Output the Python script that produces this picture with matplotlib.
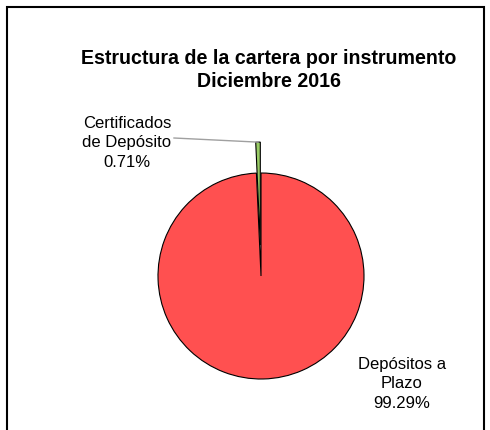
import numpy as np
import matplotlib
matplotlib.use("Agg")
import matplotlib.pyplot as plt
from matplotlib.patches import Rectangle

# data
categories = ["Depósitos a\nPlazo", "Certificados\nde Depósito"]
shares = [99.29, 0.71]
colors = ["#FF5050", "#99CC66"]
title = "Estructura de la cartera por instrumento\nDiciembre 2016"

plt.rcParams["font.family"] = ["Liberation Sans", "DejaVu Sans"]

W, H = 490, 430
fig = plt.figure(figsize=(W / 100, H / 100), dpi=100)
ax = fig.add_axes([0, 0, 1, 1])

# pie in pixel-like coordinates (y up)
cx, cy, R = 261, H - 276, 103
wedges, _ = ax.pie(shares, colors=colors, startangle=90, counterclock=False,
                   explode=[0, 0.3 * R], radius=R, center=(cx, cy),
                   wedgeprops=dict(edgecolor="black", linewidth=0.8),
                   frame=False)
ax.set_xlim(0, W)
ax.set_ylim(0, H)
ax.set_aspect("equal")
ax.axis("off")

# outer frame
fig.patches.append(Rectangle((7 / W, -0.05), (484 - 7) / W, (H - 7) / H + 0.05,
                             transform=fig.transFigure, fill=False,
                             edgecolor="black", linewidth=1.5))

# title
fig.text(269 / W, 1 - 70 / H, title, ha="center", va="center",
         fontsize=14.1, fontweight="bold", linespacing=1.33)

# labels
ax.text(402, H - 384, f"{categories[0]}\n{shares[0]:.2f}%", ha="center",
        va="center", fontsize=12.0, linespacing=1.38)
ax.text(127, H - 143, f"{categories[1]}\n{shares[1]:.2f}%", ha="center",
        va="center", fontsize=12.0, linespacing=1.38)

# leader line to small slice
w = wedges[1]
ang = np.deg2rad((w.theta1 + w.theta2) / 2)
tip = (w.center[0] + w.r * np.cos(ang), w.center[1] + w.r * np.sin(ang))
ax.plot([174, tip[0]], [H - 138, tip[1]], color="#A0A0A0", linewidth=1)

fig.savefig("out.png", dpi=100)
